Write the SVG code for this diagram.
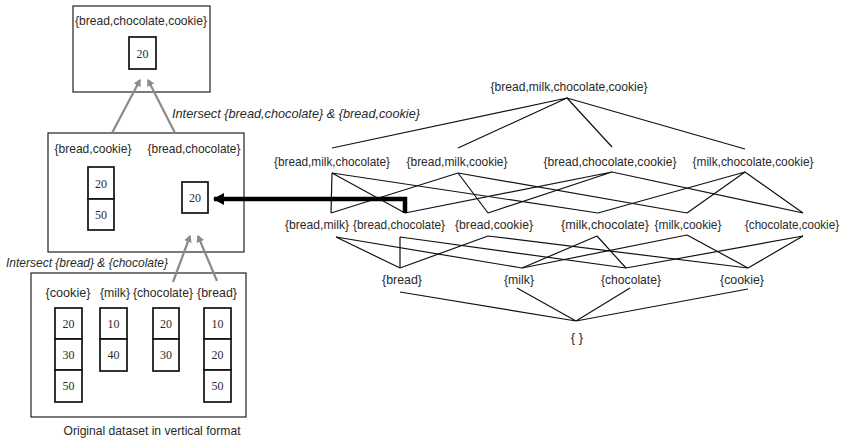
<svg xmlns="http://www.w3.org/2000/svg" width="852" height="445" viewBox="0 0 852 445">
  <style>
    .lbl { font-family: "Liberation Sans", Arial, sans-serif; font-size: 13px; fill: #2a2a2a; text-anchor: middle; }
    .it { font-family: "Liberation Sans", Arial, sans-serif; font-size: 13px; font-style: italic; fill: #2a2a2a; }
    .num { font-family: "Liberation Serif", "Times New Roman", serif; font-size: 12px; fill: #2a2a2a; text-anchor: middle; }
    .frame { fill: #fff; stroke: #222; stroke-width: 1.2; }
    .cell { fill: #fff; stroke: #111; stroke-width: 1.7; }
    .lat { stroke: #111; stroke-width: 1.2; fill: none; }
    .up { stroke: #8a8a8a; stroke-width: 2.2; fill: none; marker-end: url(#grayHead); }
    .tid { stroke: #000; stroke-width: 4.5; fill: none; marker-end: url(#blackHead); }
  </style>
  <defs>
    <marker id="grayHead" markerWidth="8" markerHeight="8" refX="6" refY="4" orient="auto" markerUnits="userSpaceOnUse">
      <path d="M0,0 L7,4 L0,8 Z" fill="#8a8a8a"/>
    </marker>
    <marker id="blackHead" markerWidth="12" markerHeight="12" refX="10" refY="6" orient="auto" markerUnits="userSpaceOnUse">
      <path d="M0,0 L11,6 L0,12 Z" fill="#000"/>
    </marker>
  </defs>
  <rect width="852" height="445" fill="#fff"/>

  <!-- vertical tid-list side -->
  <g id="set-bread-chocolate-cookie">
    <rect class="frame" x="73" y="6" width="137" height="86"/>
    <text class="lbl" x="141" y="25" textLength="132" lengthAdjust="spacingAndGlyphs">{bread,chocolate,cookie}</text>
    <rect class="cell" x="129" y="37" width="27" height="32"/>
    <text class="num" x="142.5" y="58">20</text>
  </g>

  <g id="pair-sets">
    <rect class="frame" x="48" y="133" width="196" height="119"/>
    <text class="lbl" x="93" y="153" textLength="77" lengthAdjust="spacingAndGlyphs">{bread,cookie}</text>
    <text class="lbl" x="194" y="153" textLength="93" lengthAdjust="spacingAndGlyphs">{bread,chocolate}</text>
    <rect class="cell" x="88" y="167" width="26" height="32"/>
    <rect class="cell" x="88" y="199" width="26" height="31"/>
    <text class="num" x="101" y="188">20</text>
    <text class="num" x="101" y="219">50</text>
    <rect class="cell" x="182" y="182" width="26" height="31"/>
    <text class="num" x="195" y="202">20</text>
  </g>

  <g id="original-dataset">
    <rect class="frame" x="31" y="273" width="215" height="144"/>
    <text class="lbl" x="68" y="297" textLength="45" lengthAdjust="spacingAndGlyphs">{cookie}</text>
    <text class="lbl" x="115" y="297" textLength="30" lengthAdjust="spacingAndGlyphs">{milk}</text>
    <text class="lbl" x="163" y="297" textLength="60" lengthAdjust="spacingAndGlyphs">{chocolate}</text>
    <text class="lbl" x="217" y="297" textLength="40" lengthAdjust="spacingAndGlyphs">{bread}</text>
    <!-- cookie -->
    <rect class="cell" x="55" y="308" width="27" height="31"/>
    <rect class="cell" x="55" y="339" width="27" height="31"/>
    <rect class="cell" x="55" y="370" width="27" height="32"/>
    <text class="num" x="68.5" y="328">20</text>
    <text class="num" x="68.5" y="359">30</text>
    <text class="num" x="68.5" y="390">50</text>
    <!-- milk -->
    <rect class="cell" x="100" y="308" width="27" height="31"/>
    <rect class="cell" x="100" y="339" width="27" height="32"/>
    <text class="num" x="113.5" y="328">10</text>
    <text class="num" x="113.5" y="359">40</text>
    <!-- chocolate -->
    <rect class="cell" x="153" y="308" width="26" height="31"/>
    <rect class="cell" x="153" y="339" width="26" height="32"/>
    <text class="num" x="166" y="328">20</text>
    <text class="num" x="166" y="359">30</text>
    <!-- bread -->
    <rect class="cell" x="204" y="308" width="27" height="31"/>
    <rect class="cell" x="204" y="339" width="27" height="31"/>
    <rect class="cell" x="204" y="370" width="27" height="32"/>
    <text class="num" x="217.5" y="328">10</text>
    <text class="num" x="217.5" y="359">20</text>
    <text class="num" x="217.5" y="390">50</text>
    <text class="lbl" x="152" y="435" textLength="177" lengthAdjust="spacingAndGlyphs">Original dataset in vertical format</text>
  </g>

  <g id="notes">
    <text class="it" x="172" y="118" textLength="248" lengthAdjust="spacingAndGlyphs">Intersect {bread,chocolate} &amp; {bread,cookie}</text>
    <text class="it" x="6" y="267" textLength="162" lengthAdjust="spacingAndGlyphs">Intersect {bread} &amp; {chocolate}</text>
  </g>

  <!-- itemset lattice -->
  <g id="lattice-labels">
    <text class="lbl" x="569" y="91" textLength="157" lengthAdjust="spacingAndGlyphs">{bread,milk,chocolate,cookie}</text>
    <text class="lbl" x="332" y="166" textLength="116" lengthAdjust="spacingAndGlyphs">{bread,milk,chocolate}</text>
    <text class="lbl" x="457" y="166" textLength="101" lengthAdjust="spacingAndGlyphs">{bread,milk,cookie}</text>
    <text class="lbl" x="610" y="166" textLength="133" lengthAdjust="spacingAndGlyphs">{bread,chocolate,cookie}</text>
    <text class="lbl" x="753" y="166" textLength="121" lengthAdjust="spacingAndGlyphs">{milk,chocolate,cookie}</text>
    <text class="lbl" x="317" y="229" textLength="64" lengthAdjust="spacingAndGlyphs">{bread,milk}</text>
    <text class="lbl" x="399" y="229" textLength="92" lengthAdjust="spacingAndGlyphs">{bread,chocolate}</text>
    <text class="lbl" x="494" y="229" textLength="78" lengthAdjust="spacingAndGlyphs">{bread,cookie}</text>
    <text class="lbl" x="605" y="229" textLength="88" lengthAdjust="spacingAndGlyphs">{milk,chocolate}</text>
    <text class="lbl" x="688" y="229" textLength="67" lengthAdjust="spacingAndGlyphs">{milk,cookie}</text>
    <text class="lbl" x="792" y="229" font-size="12.5" textLength="94" lengthAdjust="spacingAndGlyphs">{chocolate,cookie}</text>
    <text class="lbl" x="402" y="284" textLength="40" lengthAdjust="spacingAndGlyphs">{bread}</text>
    <text class="lbl" x="519" y="284" textLength="30" lengthAdjust="spacingAndGlyphs">{milk}</text>
    <text class="lbl" x="631" y="284" textLength="60" lengthAdjust="spacingAndGlyphs">{chocolate}</text>
    <text class="lbl" x="742" y="284" textLength="44" lengthAdjust="spacingAndGlyphs">{cookie}</text>
    <text class="lbl" x="577" y="342">{ }</text>
  </g>

  <g id="connectors">
    <!-- 4-itemset to 3-itemsets -->
    <path class="lat" d="M567,98 L332,148 M567,98 L458,148 M567,98 L612,147 M567,98 L745,149"/>
    <!-- 3-itemsets to 2-itemsets -->
    <path class="lat" d="M332,173 L331,213 M332,173 L405,213 M332,173 L598,213"/>
    <path class="lat" d="M458,173 L331,213 M458,173 L488,213 M458,173 L687,213"/>
    <path class="lat" d="M612,172 L405,213 M612,172 L488,213 M612,172 L803,213"/>
    <path class="lat" d="M745,172 L598,213 M745,172 L687,213 M745,172 L803,213"/>
    <!-- 2-itemsets to 1-itemsets -->
    <path class="lat" d="M336,237 L400,268 M336,237 L522,268"/>
    <path class="lat" d="M400,237 L400,268 M400,237 L626,268"/>
    <path class="lat" d="M488,236 L400,268 M488,236 L748,268"/>
    <path class="lat" d="M597,236 L522,268 M597,236 L626,268"/>
    <path class="lat" d="M687,235 L522,268 M687,235 L748,268"/>
    <path class="lat" d="M803,236 L626,268 M803,236 L748,268"/>
    <!-- 1-itemsets to empty set -->
    <path class="lat" d="M400,292 L576,321 M517,288 L576,321 M630,288 L576,321 M748,289 L576,321"/>
    <!-- tid-list link -->
    <path class="tid" d="M405,213 V199 H214"/>
    <!-- intersections -->
    <path class="up" d="M112,133 L140,80"/>
    <path class="up" d="M175,133 L148,80"/>
    <path class="up" d="M173,282 L190,236"/>
    <path class="up" d="M217,281 L198,236"/>
  </g>
</svg>
